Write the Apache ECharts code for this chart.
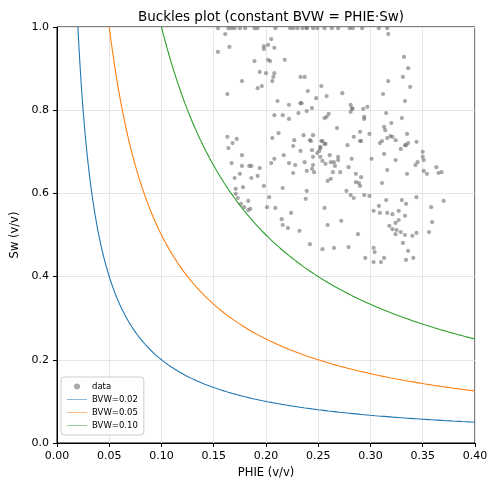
<!DOCTYPE html><html><head><meta charset="utf-8"><script src="https://cdn.jsdelivr.net/npm/echarts@6/dist/echarts.min.js"></script><style>body{margin:0}#c{width:498px;height:492px}</style></head><body><div id="c"></div><script>
const xTicks=[0,0.05,0.10,0.15,0.20,0.25,0.30,0.35,0.40];
const bvwValues=[0.02,0.05,0.10];
const bvwColors=['#1f77b4','#ff7f0e','#2ca02c'];
const topRowPhie=[.154,.164,.167,.170,.175,.180,.189,.192,.209,.223,.226,.230,.235,.239,.245,.249,.256,.269,.283,.263,.280,.292,.308,.316];
const dataPoints=[
[.154,.940],[.161,.983],[.165,.952],[.163,.839],[.177,.870],[.189,.918],[.194,.892],[.192,.853],[.196,.858],[.198,.954],[.202,.957],[.198,.947],[.205,.971],[.208,.950],[.202,.921],[.204,.918],[.200,.889],[.208,.889],[.207,.880],[.206,.870],[.218,.921],[.211,.822],[.222,.813],[.233,.817],[.208,.788],[.216,.788],[.222,.779],[.231,.793],[.239,.798],[.233,.880],[.237,.880],[.240,.846],[.163,.736],[.168,.721],[.172,.731],[.164,.709],[.206,.733],[.212,.745],[.227,.728],[.226,.714],[.236,.740],
[.239,.998],[.317,.983],[.332,.928],[.336,.901],[.331,.880],[.317,.870],[.338,.856],[.333,.822],[.312,.839],[.273,.841],[.253,.858],[.258,.834],[.248,.829],[.234,.817],[.244,.805],[.281,.813],[.282,.805],[.283,.803],[.293,.803],[.297,.808],[.281,.796],[.294,.784],[.294,.779],[.260,.791],[.258,.784],[.256,.781],[.315,.793],[.330,.781],[.320,.769],[.268,.757],[.313,.760],[.314,.752],[.290,.748],[.299,.743],[.335,.743],[.284,.736],[.291,.726],[.245,.740],[.242,.728],[.254,.726],[.257,.719],[.278,.716],[.316,.733],[.319,.738],[.321,.736],[.324,.728],[.344,.724],[.334,.716],[.329,.707],[.252,.709],
[.177,.692],[.167,.673],[.177,.666],[.184,.666],[.186,.666],[.194,.661],[.175,.647],[.170,.637],[.186,.637],[.192,.642],[.178,.615],[.171,.611],[.171,.599],[.173,.589],[.183,.582],[.176,.575],[.179,.567],[.185,.563],[.183,.560],[.198,.618],[.203,.591],[.201,.567],[.209,.565],[.224,.553],[.215,.538],[.216,.524],[.221,.517],[.232,.510],[.205,.673],[.208,.683],[.217,.692],[.222,.673],[.228,.668],[.226,.649],[.233,.702],[.237,.675],[.239,.654],[.216,.613],[.239,.606],[.238,.587],
[.243,.726],[.252,.712],[.251,.702],[.256,.719],[.253,.726],[.249,.697],[.244,.704],[.245,.688],[.245,.668],[.244,.659],[.246,.651],[.252,.688],[.254,.678],[.257,.671],[.261,.692],[.262,.675],[.265,.675],[.266,.666],[.264,.651],[.269,.688],[.269,.680],[.271,.651],[.262,.635],[.259,.630],[.290,.726],[.282,.683],[.279,.663],[.286,.647],[.291,.639],[.286,.627],[.289,.625],[.290,.618],[.301,.683],[.309,.721],[.311,.726],[.313,.695],[.316,.656],[.311,.625],[.324,.680],[.333,.716],[.336,.721],[.335,.647],[.343,.668],[.345,.675],[.350,.700],[.350,.688],[.351,.680],[.351,.654],[.354,.647],[.363,.663],[.365,.649],[.368,.651],[.277,.606],[.281,.596],[.284,.589],[.294,.596],[.299,.594],[.315,.584],[.330,.584],[.334,.575],[.344,.591],[.370,.582],[.256,.565],[.308,.570],[.303,.558],[.309,.553],[.316,.553],[.321,.550],[.327,.558],[.333,.546],[.358,.567],[.327,.536],[.324,.529],[.272,.534],[.259,.524],[.318,.522],[.321,.514],[.325,.512],[.329,.507],[.324,.502],[.333,.500],[.340,.498],[.344,.505],[.356,.507],[.359,.531],[.288,.502],[.242,.478],[.254,.466],[.265,.469],[.279,.471],[.303,.469],[.304,.459],[.331,.481],[.336,.462],[.341,.445],[.334,.440],[.295,.445],[.303,.435],[.310,.435],[.313,.445]
];
const allPoints=dataPoints.concat(topRowPhie.map(p=>[p,0.997]));
function curve(b){const pts=[];for(let i=0;i<=400;i++){const x=b+(0.4-b)*Math.pow(i/400,1.6);pts.push([x,b/x]);}return pts;}
const F='DejaVu Sans';
const lineIcon='path://M0,0h0.01v0.01h-0.01z M0,5.4h40v1.2h-40z M0,11.99h0.01v0.01h-0.01z';
const series=[{name:'data',type:'scatter',data:allPoints,symbolSize:4.2,itemStyle:{color:'rgba(100,100,100,0.7)'},z:3}];
bvwValues.forEach((b,i)=>series.push({name:'BVW='+b.toFixed(2),type:'line',data:curve(b),symbol:'none',clip:true,lineStyle:{color:bvwColors[i],width:1.1},itemStyle:{color:bvwColors[i]},z:2}));
const ch=echarts.init(document.getElementById('c'));
ch.setOption({animation:false,backgroundColor:'#fff',
title:{text:'Buckles plot (constant BVW = PHIE·Sw)',left:266,top:5,textAlign:'center',textStyle:{fontFamily:F,fontSize:13.5,fontWeight:'normal',color:'#000'}},
grid:{left:57,right:23,top:27,bottom:49,show:true,borderColor:'#000',borderWidth:1},
legend:{left:61,top:377,orient:'vertical',itemWidth:20,itemHeight:6,itemGap:4,padding:[5,6],borderColor:'#ccc',borderWidth:1,borderRadius:3,backgroundColor:'rgba(255,255,255,0.85)',textStyle:{fontFamily:F,fontSize:8.5,color:'#000'},
data:[{name:'data',icon:'circle'},{name:'BVW=0.02',icon:lineIcon},{name:'BVW=0.05',icon:lineIcon},{name:'BVW=0.10',icon:lineIcon}]},
xAxis:{type:'value',min:0,max:0.4,interval:0.05,name:'PHIE (v/v)',nameLocation:'middle',nameGap:24,nameTextStyle:{fontFamily:F,fontSize:11.5,color:'#000'},
axisLine:{lineStyle:{color:'#000'}},axisTick:{show:true,length:4,lineStyle:{color:'#000'}},axisLabel:{fontFamily:F,fontSize:11,color:'#000',formatter:v=>v.toFixed(2)},splitLine:{lineStyle:{color:'#e5e5e5'}}},
yAxis:{type:'value',min:0,max:1,interval:0.2,name:'Sw (v/v)',nameLocation:'middle',nameGap:30,nameTextStyle:{fontFamily:F,fontSize:11.5,color:'#000'},
axisLine:{show:true,lineStyle:{color:'#000'}},axisTick:{show:true,length:4,lineStyle:{color:'#000'}},axisLabel:{fontFamily:F,fontSize:11,color:'#000',formatter:v=>v.toFixed(1)},splitLine:{lineStyle:{color:'#e5e5e5'}}},
series});
</script></body></html>
